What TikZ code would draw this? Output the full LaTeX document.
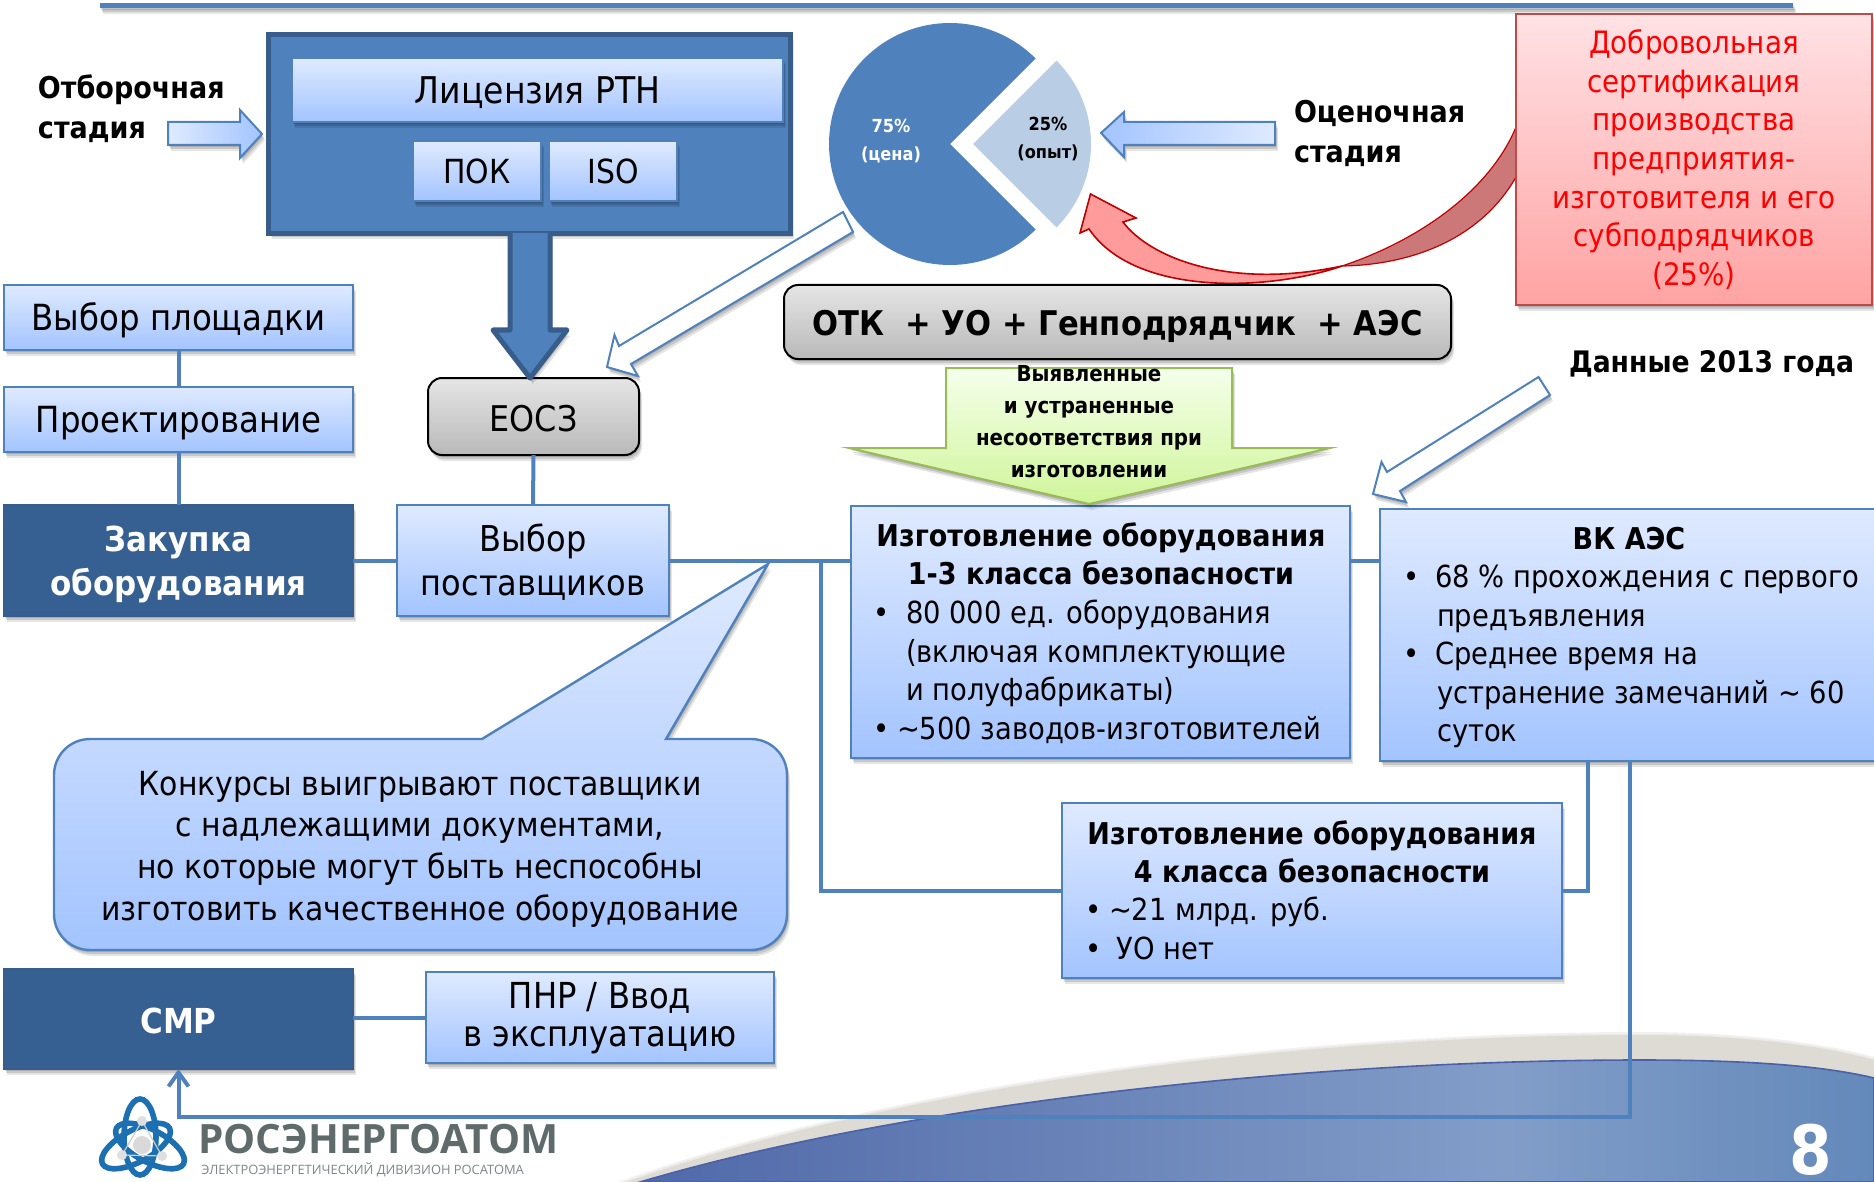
\documentclass[tikz,border=0pt]{standalone}
\usepackage{fontspec}
\setmainfont{DejaVu Sans}[FakeStretch=0.9]
\newfontfamily\logofont{Open Sans}
\usetikzlibrary{calc,arrows.meta}
\definecolor{bord}{HTML}{4F81BD}
\definecolor{bordd}{HTML}{385D8A}
\definecolor{lt}{HTML}{DFEAFF}
\definecolor{lb}{HTML}{A3C4FF}
\definecolor{navy}{HTML}{366092}
\definecolor{redb}{HTML}{BE4B48}
\definecolor{gb}{HTML}{9BBB59}
\definecolor{swl}{HTML}{5069A9}
\definecolor{swm}{HTML}{829DC8}
\definecolor{swr}{HTML}{6389BA}
\definecolor{swrim}{HTML}{4A60A8}
\definecolor{beige}{HTML}{DEDAD4}
\definecolor{piel}{HTML}{B9CDE5}
\definecolor{redt}{HTML}{FFE2E5}
\definecolor{redbot}{HTML}{FFA3A3}
\definecolor{reddk}{HTML}{CD7878}
\definecolor{redl}{HTML}{FF9B9B}
\definecolor{grt}{HTML}{F5FFEB}
\definecolor{grb}{HTML}{D0F59A}
\definecolor{logob}{HTML}{1C70B2}
\definecolor{logog}{HTML}{5F6A6A}
\definecolor{logoh}{HTML}{7D8787}
\pgfdeclarehorizontalshading{swoosh}{100bp}{color(0bp)=(swl); color(25bp)=(swl); color(60bp)=(swm); color(75bp)=(swr); color(100bp)=(swr)}
\newcommand\fs[2]{\fontsize{#1}{#2}\selectfont}
\newcommand\dn[2]{\raisebox{-#1}[\height][\depth]{#2}}
\tikzset{
  x=.5pt,y=-.5pt,
  wh/.style 2 args={minimum width=#1*.5pt,minimum height=#2*.5pt},
  softsh/.style={
    preaction={draw=none,fill=black,fill opacity=.13,transform canvas={xshift=.5pt,yshift=-1pt}},
    preaction={draw=none,fill=black,fill opacity=.13,transform canvas={xshift=1pt,yshift=-2pt}},
    preaction={draw=none,fill=black,fill opacity=.10,transform canvas={xshift=1.5pt,yshift=-3pt}}},
  bx/.style={inner sep=0pt,outer sep=0pt,align=center,text=black,font=\fs{18}{19.3}},
  bluebox/.style={bx,rectangle,softsh,draw=bord,line width=1.2pt,top color=lt,bottom color=lb},
  darkbox/.style={bx,rectangle,softsh,draw=bordd,line width=1pt,fill=navy,text=white,font=\fs{17.2}{22}\bfseries},
  graybox/.style={bx,rectangle,softsh,rounded corners=7pt,draw=black,line width=1pt,top color=gray!20,bottom color=gray!55},
  plain/.style={inner sep=0pt,outer sep=0pt,align=left,font=\fs{15.2}{19.3},text=black},
  boldlab/.style={plain,font=\fs{15}{20}\bfseries},
  conn/.style={draw=bord,line width=2pt},
  blockarr/.style={softsh,draw=bord,line width=1pt},
  whitearr/.style={softsh,draw=bord,line width=1pt,fill=white},
  pielab/.style={inner sep=0pt,outer sep=0pt,align=center,font=\fs{9}{14}\bfseries},
}
\begin{document}
\begin{tikzpicture}
\useasboundingbox (0,0) rectangle (1874,1182);
\clip (0,0) rectangle (1874,1182);
% background swoosh
\path[fill=beige,preaction={draw=beige,draw opacity=.35,line width=3pt},preaction={draw=beige,draw opacity=.35,line width=1.5pt}]
  (627,1182) .. controls (900,1085) and (1300,1035) .. (1641,1035) .. controls (1740,1035) and (1820,1045) .. (1874,1060) -- (1874,1182) -- cycle;
\path[shading=swoosh,draw=swrim,line width=.8pt]
  (640,1182) .. controls (900,1105) and (1300,1060) .. (1641,1060) .. controls (1740,1060) and (1820,1065) .. (1874,1078) -- (1874,1182) -- cycle;
\node[inner sep=0pt,text=white,font=\fs{34}{34}\bfseries] (pagenum) at (1811,1150) {8};
% top bar
\fill[bord,softsh] (100,3) rectangle (1793,8);
% left column
\node[bluebox,wh={349}{65}] (site) at (178.5,317.5) {\dn{1.2pt}{Выбор площадки}};
\node[bluebox,wh={349}{65}] (proj) at (178.5,419.5) {\dn{1.8pt}{Проектирование}};
\node[darkbox,wh={349}{111}] (zak) at (178.5,560.5) {\dn{2pt}{Закупка}\\\dn{2pt}{оборудования}};
\node[bluebox,wh={272}{111},font=\fs{17.8}{22}] (post) at (533,560.5) {\dn{.6pt}{Выбор}\\\dn{.6pt}{поставщиков}};
\node[darkbox,wh={349}{100}] (smr) at (178.5,1019) {\dn{1.2pt}{СМР}};
\node[bluebox,wh={348}{91},font=\fs{17.9}{20}] (pnr) at (600,1017.5) {\dn{.6pt}{ПНР / Ввод}\\в эксплуатацию};
% manufacture boxes
\node[bluebox,wh={499}{252}] (m13) at (1100.5,632) {};
\node[bluebox,wh={500}{252}] (vk) at (1630,635) {};
\node[bluebox,wh={500}{175}] (m4) at (1312,890.5) {};
% connectors
\coordinate (branch) at (821,560.5);
\coordinate (vkin) at (1588,761);
\coordinate (vkout) at (1630,761);
\draw[conn] (site.south) -- (proj.north);
\draw[conn] (proj.south) -- (zak.north);
\draw[conn] (zak.east) -- (post.west);
\draw[conn] (post.east) -- (post.east -| m13.west);
\draw[conn] (post.east -| m13.east) -- (post.east -| vk.west);
\draw[conn] (branch) |- (m4.west);
\draw[conn] (m4.east) -| (vkin);
\draw[conn] (smr.east |- pnr.west) -- (pnr.west);
\draw[conn,-{Straight Barb[length=7pt,width=10pt]}] (vkout) -- (1630,1117) -| (smr.south);
% license block
\node[rectangle,softsh,fill=bord,draw=bordd,line width=2.5pt,inner sep=0pt,wh={522}{199}] (lic) at (529.5,134) {};
\node[bluebox,wh={491}{64},font=\fs{18.4}{20}] (rtn) at (537.5,90) {\dn{1.2pt}{Лицензия РТН}};
\node[bluebox,wh={128}{60},font=\fs{16.6}{20}] (pok) at (477,171) {ПОК};
\node[bluebox,wh={128}{60},font=\fs{16.6}{20}] (iso) at (613,171) {ISO};
\node[graybox,wh={211}{77},font=\fs{17.7}{20}] (eosz) at (533.5,416.5) {\dn{1.2pt}{ЕОСЗ}};
\draw[conn] (eosz.south) -- (post.north);
% big arrow
\draw[softsh,fill=bord,draw=bordd,line width=2.5pt,line join=round]
  (510,233) -- (510,330) -- (493,330) -- (530,378) -- (567,330) -- (550,330) -- (550,233);
% pie
\fill[bord] (950,144) -- +(45:121) arc[start angle=45,end angle=315,radius=121] -- cycle;
\fill[piel] (973,144) -- +(-45:118) arc[start angle=-45,end angle=45,radius=118] -- cycle;
\node[pielab,text=white] (pie75) at (891,141) {75\%\\(цена)};
\node[pielab,text=black] (pie25) at (1048,139) {25\%\\(опыт)};
% labels and stage arrows
\node[boldlab,anchor=west] (stage1) at (38,109) {Отборочная\\стадия};
\node[boldlab,anchor=west] (stage2) at (1294,133) {Оценочная\\стадия};
\draw[blockarr,left color=lt,right color=lb]
  (168,122) -- (240,122) -- (240,110) -- (262,134) -- (240,158) -- (240,145) -- (168,145) -- cycle;
\draw[blockarr,left color=lb,right color=lt]
  (1275,122) -- (1124,122) -- (1124,112) -- (1101,133) -- (1124,157) -- (1124,145) -- (1275,145) -- cycle;
% white arrows
\draw[whitearr] (843,212) -- (619,346) -- (614.5,335) -- (607,367) -- (638,376) -- (631,364) -- (853,232) -- cycle;
\draw[whitearr] (1538.5,377) -- (1387,472) -- (1381.5,462) -- (1373,494) -- (1406,502) -- (1400,491) -- (1550,395) -- cycle;
\node[boldlab,anchor=west,font=\fs{14.8}{20}\bfseries] (data) at (1569,363.5) {Данные 2013 года};
% red curved arrow
\path[fill=reddk,draw=red!75!black,line width=.6pt]
  (1342,266) .. controls (1420,240) and (1490,190) .. (1516,127) -- (1516,177) .. controls (1480,240) and (1410,265) .. (1342,266) -- cycle;
\path[fill=redl,draw=red!75!black,line width=.8pt]
  (1090.5,194) -- (1136,218) -- (1123,222) .. controls (1150,258) and (1230,290) .. (1342,266)
  .. controls (1270,291) and (1135,297) .. (1089,229) -- (1080,233) -- cycle;
\node[rectangle,softsh,draw=redb,line width=1.2pt,top color=redt,bottom color=redbot,inner sep=0pt,outer sep=0pt,wh={356}{291},align=center,text=red,font=\fs{15.4}{19.3}] (red) at (1694,159.5) {Добровольная\\сертификация\\производства\\предприятия-\\изготовителя и его\\субподрядчиков\\(25\%)};
% OTK
\node[graybox,wh={667}{74},font=\fs{17}{20}\bfseries] (otk) at (1117.5,322) {\dn{2.4pt}{ОТК\ \ + УО + Генподрядчик\ \ + АЭС}};
% green arrow
\draw[softsh,draw=gb,line width=1pt,top color=grt,bottom color=grb]
  (946,368) -- (1232,368) -- (1232,448) -- (1330,448) -- (1089,504) -- (849,448) -- (946,448) -- cycle;
\node[inner sep=0pt,align=center,font=\fs{11}{16}\bfseries] (greentxt) at (1089,422) {Выявленные\\и устраненные\\несоответствия при\\изготовлении};
% manufacture text
\node[bx,font=\fs{15}{19.3}\bfseries] (m13t) at (1101,554) {Изготовление оборудования\\1-3 класса безопасности};
\node[plain,anchor=north west] (m13l) at (873,600) {\makebox[16.5pt][l]{•}80 000 ед. оборудования\\\hspace{16.5pt}(включая комплектующие\\\hspace{16.5pt}и полуфабрикаты)\\\makebox[12pt][l]{•}\textasciitilde500 заводов-изготовителей};
\node[bx,font=\fs{15}{19.3}\bfseries] (vkt) at (1629,539) {ВК АЭС};
\node[plain,anchor=north west] (vkl) at (1403,565) {\makebox[16pt][l]{•}68 \% прохождения с первого\\\hspace{17pt}предъявления\\\makebox[16pt][l]{•}Среднее время на\\\hspace{17pt}устранение замечаний \textasciitilde\ 60\\\hspace{17pt}суток};
\node[bx,font=\fs{15}{19.3}\bfseries] (m4t) at (1312,852) {Изготовление оборудования\\4 класса безопасности};
\node[plain,anchor=north west] (m4l) at (1085,897) {\makebox[12pt][l]{•}\textasciitilde21 млрд. руб.\\\makebox[16pt][l]{•}УО нет};
% callout
\path[softsh,draw=bord,line width=1.2pt,top color=lt,bottom color=lb]
  (54,845) [rounded corners=18pt] -- (54,739) [sharp corners] -- (482,739) -- (768,564) -- (666,739) [rounded corners=18pt] -- (787,739) -- (787,950) -- (54,950) [sharp corners] -- cycle;
\node[bx,font=\fs{16.6}{20.8}] (calltxt) at (420,849) {Конкурсы выигрывают поставщики\\с надлежащими документами,\\но которые могут быть неспособны\\изготовить качественное оборудование};
% logo
\begin{scope}[line width=2.8pt,draw=logob]
  \draw (140,1137) ellipse[x radius=16,y radius=38];
  \draw[rotate around={-28:(150,1146)}] (150,1146) ellipse[x radius=38,y radius=16];
  \draw[rotate around={28:(136,1146)}] (136,1146) ellipse[x radius=38,y radius=16];
\end{scope}
\draw[gray!40,line width=.6pt] (142,1121) -- (122,1155) -- (162,1156) -- cycle;
\fill[gray!30] (142,1145) circle[radius=9];
\fill[gray!25] (142,1121) circle[radius=5];
\fill[gray!25] (122,1155) circle[radius=5];
\fill[gray!25] (162,1156) circle[radius=5];
\node[inner sep=0pt,anchor=west,text=logog,font=\logofont\fs{20.2}{20}\bfseries] (logo1) at (198,1139) {РОСЭНЕРГОАТОМ};
\node[inner sep=0pt,anchor=west,text=logoh,font=\logofont\fs{6.45}{7}] (logo2) at (201,1170) {ЭЛЕКТРОЭНЕРГЕТИЧЕСКИЙ ДИВИЗИОН РОСАТОМА};
\end{tikzpicture}
\end{document}
